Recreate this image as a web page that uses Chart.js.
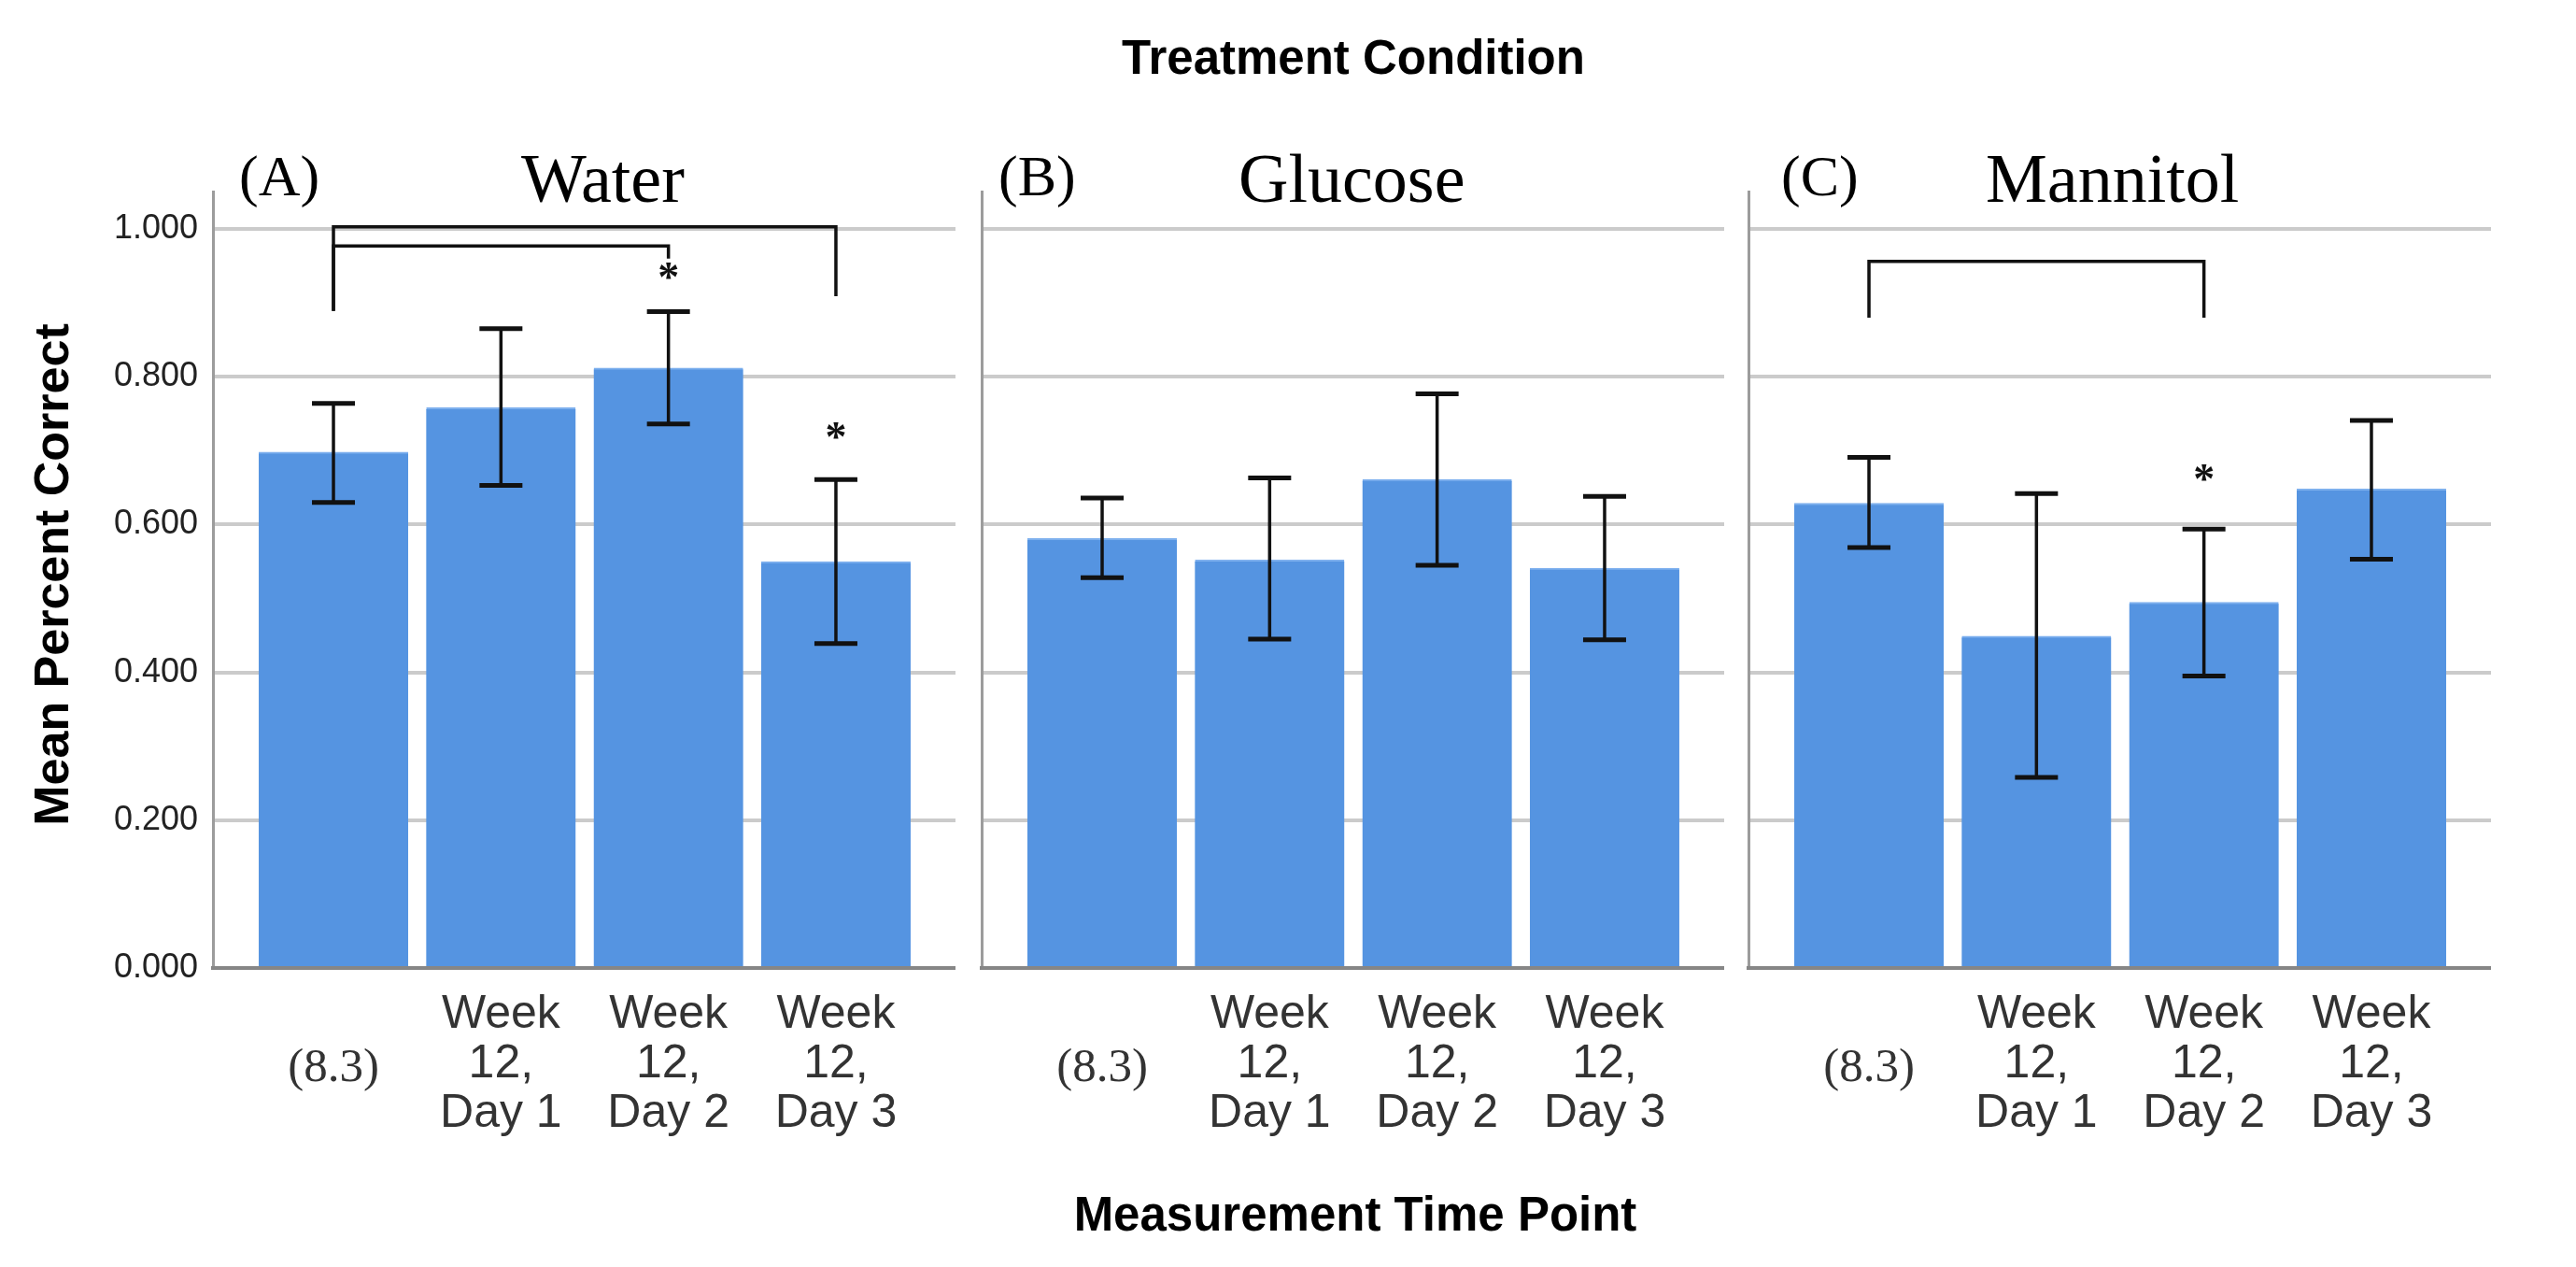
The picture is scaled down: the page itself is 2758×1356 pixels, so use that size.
<!DOCTYPE html>
<html>
<head>
<meta charset="utf-8">
<script src="https://cdn.jsdelivr.net/npm/chart.js@4.4.1/dist/chart.umd.min.js"></script>
<style>
  html, body { margin: 0; padding: 0; background: #fff; }
  body { width: 2758px; height: 1356px; position: relative; overflow: hidden; }
  canvas { position: absolute; top: 0; }
  .t { position: absolute; white-space: nowrap; line-height: 1; color: #000; }
  .sans { font-family: "Liberation Sans", Arial, sans-serif; font-weight: bold; }
  .serif { font-family: "Liberation Serif", "Times New Roman", serif; }
</style>
</head>
<body>
<div class="t sans" style="left:1449px; top:36px; font-size:51px; transform:translateX(-50%);">Treatment Condition</div>
<div class="t sans" style="left:1451px; top:1274px; font-size:51px; transform:translateX(-50%);">Measurement Time Point</div>
<div class="t sans" style="left:55px; top:615px; font-size:52px; transform:translate(-50%,-50%) rotate(-90deg);">Mean Percent Correct</div>

<div class="t serif" style="left:256px; top:157px; font-size:62px;">(A)</div>
<div class="t serif" style="left:558px; top:154px; font-size:74px;">Water</div>
<div class="t serif" style="left:1069px; top:157px; font-size:62px;">(B)</div>
<div class="t serif" style="left:1326px; top:154px; font-size:74px;">Glucose</div>
<div class="t serif" style="left:1907px; top:157px; font-size:62px;">(C)</div>
<div class="t serif" style="left:2126px; top:154px; font-size:74px;">Mannitol</div>

<canvas id="panelA" width="1023" height="1356" style="left:0px"></canvas>
<canvas id="panelB" width="1023" height="1356" style="left:823px"></canvas>
<canvas id="panelC" width="1023" height="1356" style="left:1644px"></canvas>

<script>
// categories / tick labels
const categories = ["(8.3)", "Week 12, Day 1", "Week 12, Day 2", "Week 12, Day 3"];
const tickLabels = [["", "(8.3)"], ["Week", "12,", "Day 1"], ["Week", "12,", "Day 2"], ["Week", "12,", "Day 3"]];
const yTicks = [0, 0.2, 0.4, 0.6, 0.8, 1.0];

// means and error bar ends
const waterMeans = [0.698, 0.758, 0.812, 0.550];
const waterLow = [0.630, 0.653, 0.736, 0.439];
const waterHigh = [0.764, 0.865, 0.888, 0.661];

const glucoseMeans = [0.581, 0.552, 0.661, 0.541];
const glucoseLow = [0.528, 0.445, 0.545, 0.444];
const glucoseHigh = [0.636, 0.663, 0.777, 0.638];

const mannitolMeans = [0.629, 0.449, 0.495, 0.648];
const mannitolLow = [0.569, 0.258, 0.395, 0.553];
const mannitolHigh = [0.691, 0.642, 0.594, 0.741];

// significance brackets (category index + y values) and asterisks
const waterBrackets = [
  { from: 0, to: 3, top: 1.003, fromEnd: 0.889, toEnd: 0.909 },
  { from: 0, to: 2, top: 0.977, fromEnd: 0.889, toEnd: 0.960 },
];
const waterStars = [{ at: 2, y: 0.943 }, { at: 3, y: 0.727 }];
const mannitolBrackets = [{ from: 0, to: 2, top: 0.956, fromEnd: 0.880, toEnd: 0.880 }];
const mannitolStars = [{ at: 2, y: 0.670 }];

const panels = [
  { id: "panelA", means: waterMeans, low: waterLow, high: waterHigh, brackets: waterBrackets, stars: waterStars, showY: true },
  { id: "panelB", means: glucoseMeans, low: glucoseLow, high: glucoseHigh, brackets: [], stars: [], showY: false },
  { id: "panelC", means: mannitolMeans, low: mannitolLow, high: mannitolHigh, brackets: mannitolBrackets, stars: mannitolStars, showY: false },
];

// error bars, brackets and stars, drawn with the chart's scales
function makeAnnotate(p) {
  return {
    id: "annotate",
    afterDatasetsDraw(chart) {
      const { ctx } = chart;
      const x = chart.scales.x, y = chart.scales.y;
      ctx.save();
      ctx.strokeStyle = "#111";
      p.low.forEach((lo, i) => {
        const px = x.getPixelForValue(i);
        const yl = y.getPixelForValue(lo);
        const yh = y.getPixelForValue(p.high[i]);
        ctx.lineWidth = 3.5;
        ctx.beginPath();
        ctx.moveTo(px, yl);
        ctx.lineTo(px, yh);
        ctx.stroke();
        ctx.lineWidth = 5;
        ctx.beginPath();
        ctx.moveTo(px - 23, yl); ctx.lineTo(px + 23, yl);
        ctx.moveTo(px - 23, yh); ctx.lineTo(px + 23, yh);
        ctx.stroke();
      });
      ctx.lineWidth = 3.5;
      p.brackets.forEach((b) => {
        const x1 = x.getPixelForValue(b.from);
        const x2 = x.getPixelForValue(b.to);
        const yt = y.getPixelForValue(b.top);
        ctx.beginPath();
        ctx.moveTo(x1, y.getPixelForValue(b.fromEnd));
        ctx.lineTo(x1, yt);
        ctx.lineTo(x2, yt);
        ctx.lineTo(x2, y.getPixelForValue(b.toEnd));
        ctx.stroke();
      });
      ctx.fillStyle = "#111";
      ctx.font = 'bold 46px "Liberation Serif"';
      ctx.textAlign = "center";
      ctx.textBaseline = "alphabetic";
      p.stars.forEach((s) => {
        ctx.fillText("*", x.getPixelForValue(s.at), y.getPixelForValue(s.y) + 0.47 * 46);
      });
      ctx.restore();
    },
  };
}

panels.forEach((p) => {
  new Chart(document.getElementById(p.id), {
    type: "bar",
    data: {
      datasets: [{
        data: p.means.map((m, i) => ({ x: i, y: m })),
        backgroundColor: "#5594e1",
        borderColor: "#7eb0ee",
        borderWidth: { top: 2, left: 0, right: 0, bottom: 0 },
        barThickness: 160,
      }],
    },
    options: {
      responsive: false,
      animation: false,
      devicePixelRatio: 1,
      events: [],
      layout: { padding: { top: 205, left: 0, right: 0, bottom: 0 } },
      plugins: { legend: { display: false }, tooltip: { enabled: false } },
      scales: {
        x: {
          type: "linear",
          offset: false,
          bounds: "data",
          min: -0.7195,
          max: 3.714,
          afterBuildTicks: (s) => { s.ticks = categories.map((c, i) => ({ value: i })); },
          afterFit: (s) => { s.height = 320; s.paddingLeft = 0; s.paddingRight = 0; },
          grid: { display: false, drawTicks: false, offset: false },
          border: { display: true, color: "#868686", width: 4, z: 1 },
          ticks: {
            padding: 24,
            color: "#333",
            autoSkip: false,
            maxRotation: 0,
            callback: (v, i) => tickLabels[i],
            font: (c) => c.index === 0
              ? { family: "Liberation Serif", size: 51, lineHeight: "56px" }
              : { family: "Liberation Sans", size: 50, lineHeight: "53px" },
          },
        },
        y: {
          min: 0,
          max: 1.0506,
          afterBuildTicks: (s) => { s.ticks = yTicks.map((v) => ({ value: v })); },
          afterFit: (s) => { s.width = 228; s.paddingTop = 0; s.paddingBottom = 0; },
          grid: { color: "#cbcbcb", lineWidth: 4, drawTicks: false },
          border: { display: true, color: "#9c9c9c", width: 3 },
          ticks: {
            display: p.showY,
            padding: 16,
            color: "#222",
            font: { family: "Liberation Sans", size: 36 },
            callback: (v) => v.toFixed(3),
          },
        },
      },
    },
    plugins: [makeAnnotate(p)],
  });
});
</script>
</body>
</html>
